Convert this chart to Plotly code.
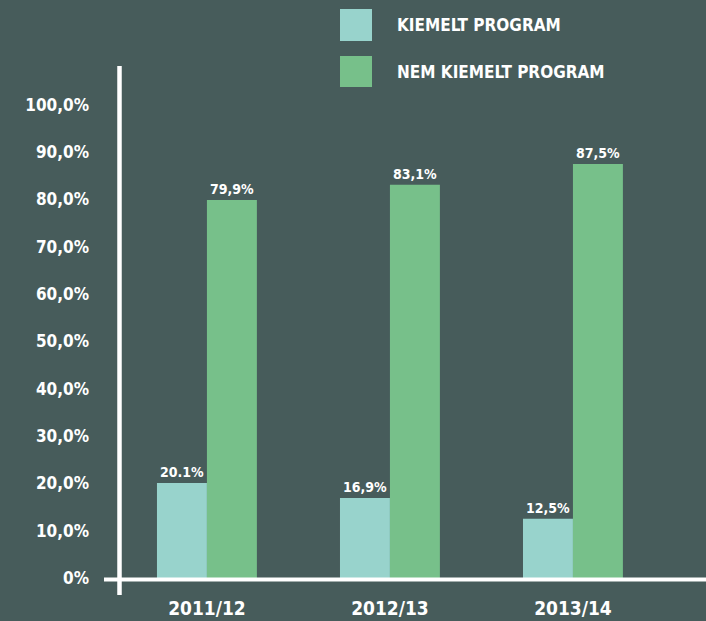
import plotly.graph_objects as go

categories = ["2011/12", "2012/13", "2013/14"]
series_names = ["KIEMELT PROGRAM", "NEM KIEMELT PROGRAM"]
kiemelt = [20.1, 16.9, 12.5]
nem_kiemelt = [79.9, 83.1, 87.5]
kiemelt_labels = ["20.1%", "16,9%", "12,5%"]
nem_kiemelt_labels = ["79,9%", "83,1%", "87,5%"]
y_tickvals = [0, 10, 20, 30, 40, 50, 60, 70, 80, 90, 100]
y_ticktext = ["0%", "10,0%", "20,0%", "30,0%", "40,0%", "50,0%",
              "60,0%", "70,0%", "80,0%", "90,0%", "100,0%"]

BG = "#475c5b"
C1 = "#98d3cc"
C2 = "#77c08a"
FONT = "DejaVu Sans Condensed, Roboto, sans-serif"

fig = go.Figure()
fig.add_trace(go.Bar(x=categories, y=kiemelt, name=series_names[0],
                     marker=dict(color=C1, line=dict(width=0)),
                     text=kiemelt_labels, textposition="outside",
                     textfont=dict(color="white", size=14, family=FONT, weight="bold"),
                     cliponaxis=False))
fig.add_trace(go.Bar(x=categories, y=nem_kiemelt, name=series_names[1],
                     marker=dict(color=C2, line=dict(width=0)),
                     text=nem_kiemelt_labels, textposition="outside",
                     textfont=dict(color="white", size=14, family=FONT, weight="bold"),
                     cliponaxis=False))

W = 586.0
H = 512.0
def px(x):
    return (x - 120) / W
def py(y):
    return (578 - y) / H

shapes = [
    dict(type="line", xref="paper", yref="paper", x0=px(119.5), x1=px(119.5),
         y0=py(66), y1=py(595), line=dict(color="white", width=4.5)),
    dict(type="line", xref="paper", yref="paper", x0=px(104), x1=1.0,
         y0=py(579.5), y1=py(579.5), line=dict(color="white", width=4)),
]
annotations = []
legend_boxes = [(9, 41, 25), (56, 87, 72)]
for (top, bot, ty), name, col in zip(legend_boxes, series_names, [C1, C2]):
    shapes.append(dict(type="rect", xref="paper", yref="paper",
                       x0=px(340), x1=px(372), y0=py(bot), y1=py(top),
                       fillcolor=col, line=dict(width=0)))
    annotations.append(dict(xref="paper", yref="paper", x=px(395), y=py(ty),
                            text=name, showarrow=False, xanchor="left",
                            yanchor="middle",
                            font=dict(color="white", size=17, family=FONT, weight="bold")))

fig.update_layout(
    width=706, height=621,
    paper_bgcolor=BG, plot_bgcolor=BG,
    margin=dict(l=120, r=0, t=66, b=43),
    barmode="group", bargap=0.454, bargroupgap=0,
    showlegend=False,
    font=dict(family=FONT, color="white"),
    shapes=shapes, annotations=annotations,
    xaxis=dict(range=[-0.475, 2.727], showgrid=False, zeroline=False,
               showline=False, ticks="",
               tickfont=dict(size=19, color="white", family=FONT, weight="bold"),
               ticklabelstandoff=17),
    yaxis=dict(range=[0, 108.2], tickvals=y_tickvals, ticktext=y_ticktext,
               showgrid=False, zeroline=False, showline=False, ticks="",
               tickfont=dict(size=17, color="white", family=FONT, weight="bold"),
               ticklabelstandoff=30),
)
fig.write_html("out.html", config={"displayModeBar": False},
               post_script="document.body.style.margin='0';")
